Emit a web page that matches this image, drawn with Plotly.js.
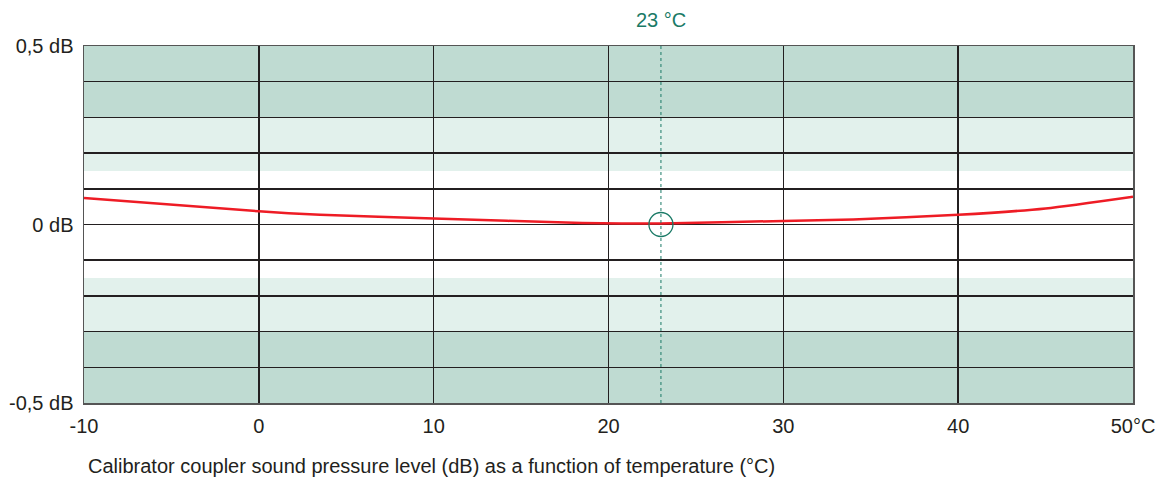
<!DOCTYPE html>
<html>
<head>
<meta charset="utf-8">
<script src="https://cdn.plot.ly/plotly-3.0.1.min.js"></script>
<style>html,body{margin:0;padding:0;background:#fff;}#chart{width:1163px;height:481px;}</style>
</head>
<body>
<div id="chart"></div>
<script>
// Data
const temperature = [-10, 0, 3.5, 10, 18.5, 23, 30, 34, 40, 45, 50];
const levelDb     = [0.074, 0.037, 0.027, 0.017, 0.004, 0.003, 0.01, 0.014, 0.027, 0.045, 0.078];
const refTemp = [23];
const refLevel = [0];
const xTickVals = [-10, 0, 10, 20, 30, 40, 50];
const xTickText = ['-10', '0', '10', '20', '30', '40', '50°C'];
const yTickVals = [-0.5, -0.4, -0.3, -0.2, -0.1, 0, 0.1, 0.2, 0.3, 0.4, 0.5];
const yTickText = ['-0,5 dB', '', '', '', '', '0 dB', '', '', '', '', '0,5 dB'];
const darkBands = [[0.3, 0.5], [-0.5, -0.3]];
const lightBands = [[0.15, 0.3], [-0.3, -0.15]];

const darkColor = '#bfdbd2';
const lightColor = '#e2f1ec';
const teal = '#1a7a66';
const font = 'Liberation Sans, Arial, Helvetica, sans-serif';

const shapes = [];
darkBands.forEach(b => shapes.push({type:'rect', xref:'paper', yref:'y', x0:0, x1:1, y0:b[0], y1:b[1], fillcolor:darkColor, line:{width:0}, layer:'below'}));
lightBands.forEach(b => shapes.push({type:'rect', xref:'paper', yref:'y', x0:0, x1:1, y0:b[0], y1:b[1], fillcolor:lightColor, line:{width:0}, layer:'below'}));
shapes.push({type:'line', xref:'x', yref:'paper', x0:refTemp[0], x1:refTemp[0], y0:0, y1:1, line:{color:teal, width:1, dash:'dot'}, layer:'above'});

const traces = [
  {x: temperature, y: levelDb, type:'scatter', mode:'lines', line:{color:'#ee1c25', width:2.5, shape:'spline', smoothing:0.6}, hoverinfo:'skip'},
  {x: refTemp, y: refLevel, type:'scatter', mode:'markers', marker:{symbol:'circle-open', size:24, color:teal, line:{width:1.3, color:teal}}, hoverinfo:'skip'}
];

const layout = {
  width:1163, height:481,
  margin:{l:84, r:30, t:46, b:78},
  paper_bgcolor:'#fff', plot_bgcolor:'#fff',
  showlegend:false,
  font:{family:font, size:20, color:'#231f20'},
  xaxis:{range:[-10,50], tickvals:xTickVals, ticktext:xTickText, showgrid:true, gridcolor:'#231f20', gridwidth:1.5,
         zeroline:false, showline:true, mirror:true, linecolor:'#555', linewidth:1.5, ticks:'', ticklabelstandoff:4,
         tickfont:{family:font, size:20, color:'#231f20'}, fixedrange:true},
  yaxis:{range:[-0.5,0.5], tickvals:yTickVals, ticktext:yTickText, showgrid:true, gridcolor:'#231f20', gridwidth:1.5,
         zeroline:false, showline:true, mirror:true, linecolor:'#555', linewidth:1.5, ticks:'', ticklabelstandoff:5,
         tickfont:{family:font, size:20, color:'#231f20'}, fixedrange:true},
  shapes: shapes,
  annotations:[
    {text:'23 °C', xref:'x', yref:'paper', x:refTemp[0], y:1, yshift:26, showarrow:false, xanchor:'center', yanchor:'middle', font:{family:font, size:20, color:teal}},
    {text:'Calibrator coupler sound pressure level (dB) as a function of temperature (°C)', xref:'paper', yref:'paper', x:0, xshift:2, y:0, yshift:-63, showarrow:false, xanchor:'left', yanchor:'middle', font:{family:font, size:20, color:'#231f20'}}
  ]
};
Plotly.newPlot('chart', traces, layout, {displayModeBar:false, staticPlot:true});
</script>
</body>
</html>
